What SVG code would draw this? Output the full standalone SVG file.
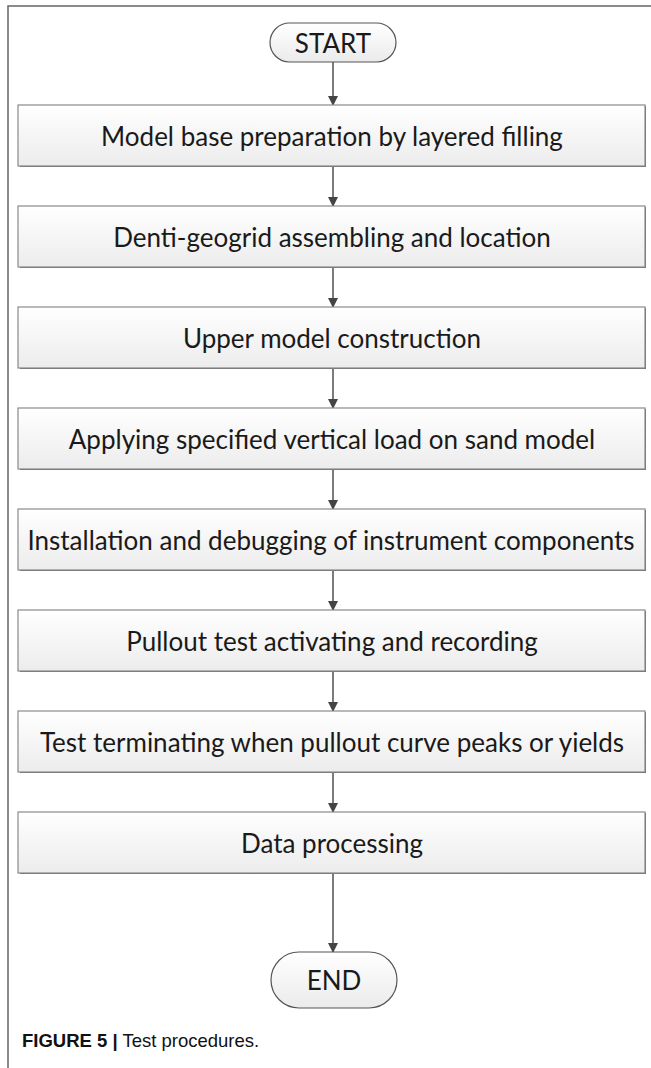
<svg xmlns="http://www.w3.org/2000/svg" width="651" height="1068" viewBox="0 0 651 1068">
<style>
.box{fill:url(#gb);stroke:#8a8a8a;stroke-width:1.2}
.shd{fill:none;stroke:#6a6a6a;stroke-width:2}
.pill{fill:url(#gp);stroke:#555;stroke-width:1.2}
.t{font-family:Lato,"Open Sans",sans-serif;font-size:26px;fill:#1a1a1a;text-anchor:middle;dominant-baseline:central}
.c{stroke:#444;stroke-width:1.4;fill:none;marker-end:url(#ah)}
.frame{stroke:#666;stroke-width:1.5;fill:none}
.cap{font-family:"Liberation Sans",Arial,sans-serif;font-size:18.5px;fill:#111}
</style>
<defs>
<linearGradient id="gb" x1="0" y1="0" x2="0" y2="1"><stop offset="0" stop-color="#ffffff"/><stop offset="1" stop-color="#ececec"/></linearGradient>
<linearGradient id="gp" x1="0" y1="0" x2="0" y2="1"><stop offset="0" stop-color="#ffffff"/><stop offset="1" stop-color="#ebebeb"/></linearGradient>
<marker id="ah" markerWidth="10" markerHeight="10" refX="9" refY="5" orient="auto" markerUnits="userSpaceOnUse"><path d="M0,0 L10,5 L0,10 Z" fill="#444"/></marker>
</defs>
<rect width="651" height="1068" fill="#fff"/>
<path class="frame" d="M8,1068 V6 H651"/>
<g id="connectors">
<line class="c" x1="333" y1="62" x2="333" y2="105"/>
<line class="c" x1="333" y1="166" x2="333" y2="206"/>
<line class="c" x1="333" y1="267" x2="333" y2="307"/>
<line class="c" x1="333" y1="368" x2="333" y2="408"/>
<line class="c" x1="333" y1="469" x2="333" y2="509"/>
<line class="c" x1="333" y1="570" x2="333" y2="610"/>
<line class="c" x1="333" y1="671" x2="333" y2="711"/>
<line class="c" x1="333" y1="772" x2="333" y2="812"/>
<line class="c" x1="333" y1="873" x2="333" y2="952"/>
</g>
<g id="start"><rect class="pill" x="270" y="23" width="126" height="39" rx="19.5"/><text class="t" x="333" y="42.5">START</text></g>
<g id="n1"><path class="shd" d="M20,166 H645 V106"/><rect class="box" x="18" y="105" width="627" height="61"/><text class="t" x="332" y="135.5">Model base preparation by layered filling</text></g>
<g id="n2"><path class="shd" d="M20,267 H645 V207"/><rect class="box" x="18" y="206" width="627" height="61"/><text class="t" x="332" y="236.5">Denti-geogrid assembling and location</text></g>
<g id="n3"><path class="shd" d="M20,368 H645 V308"/><rect class="box" x="18" y="307" width="627" height="61"/><text class="t" x="332" y="337.5">Upper model construction</text></g>
<g id="n4"><path class="shd" d="M20,469 H645 V409"/><rect class="box" x="18" y="408" width="627" height="61"/><text class="t" x="332" y="438.5">Applying specified vertical load on sand model</text></g>
<g id="n5"><path class="shd" d="M20,570 H645 V510"/><rect class="box" x="18" y="509" width="627" height="61"/><text class="t" x="331" y="539.5">Installation and debugging of instrument components</text></g>
<g id="n6"><path class="shd" d="M20,671 H645 V611"/><rect class="box" x="18" y="610" width="627" height="61"/><text class="t" x="332" y="640.5">Pullout test activating and recording</text></g>
<g id="n7"><path class="shd" d="M20,772 H645 V712"/><rect class="box" x="18" y="711" width="627" height="61"/><text class="t" x="332" y="741.5">Test terminating when pullout curve peaks or yields</text></g>
<g id="n8"><path class="shd" d="M20,873 H645 V813"/><rect class="box" x="18" y="812" width="627" height="61"/><text class="t" x="332" y="842.5">Data processing</text></g>
<g id="end"><rect class="pill" x="271" y="952" width="126" height="56" rx="28"/><text class="t" x="334" y="980">END</text></g>
<text class="cap" x="22" y="1047"><tspan font-weight="bold">FIGURE 5 |</tspan> Test procedures.</text>
</svg>
